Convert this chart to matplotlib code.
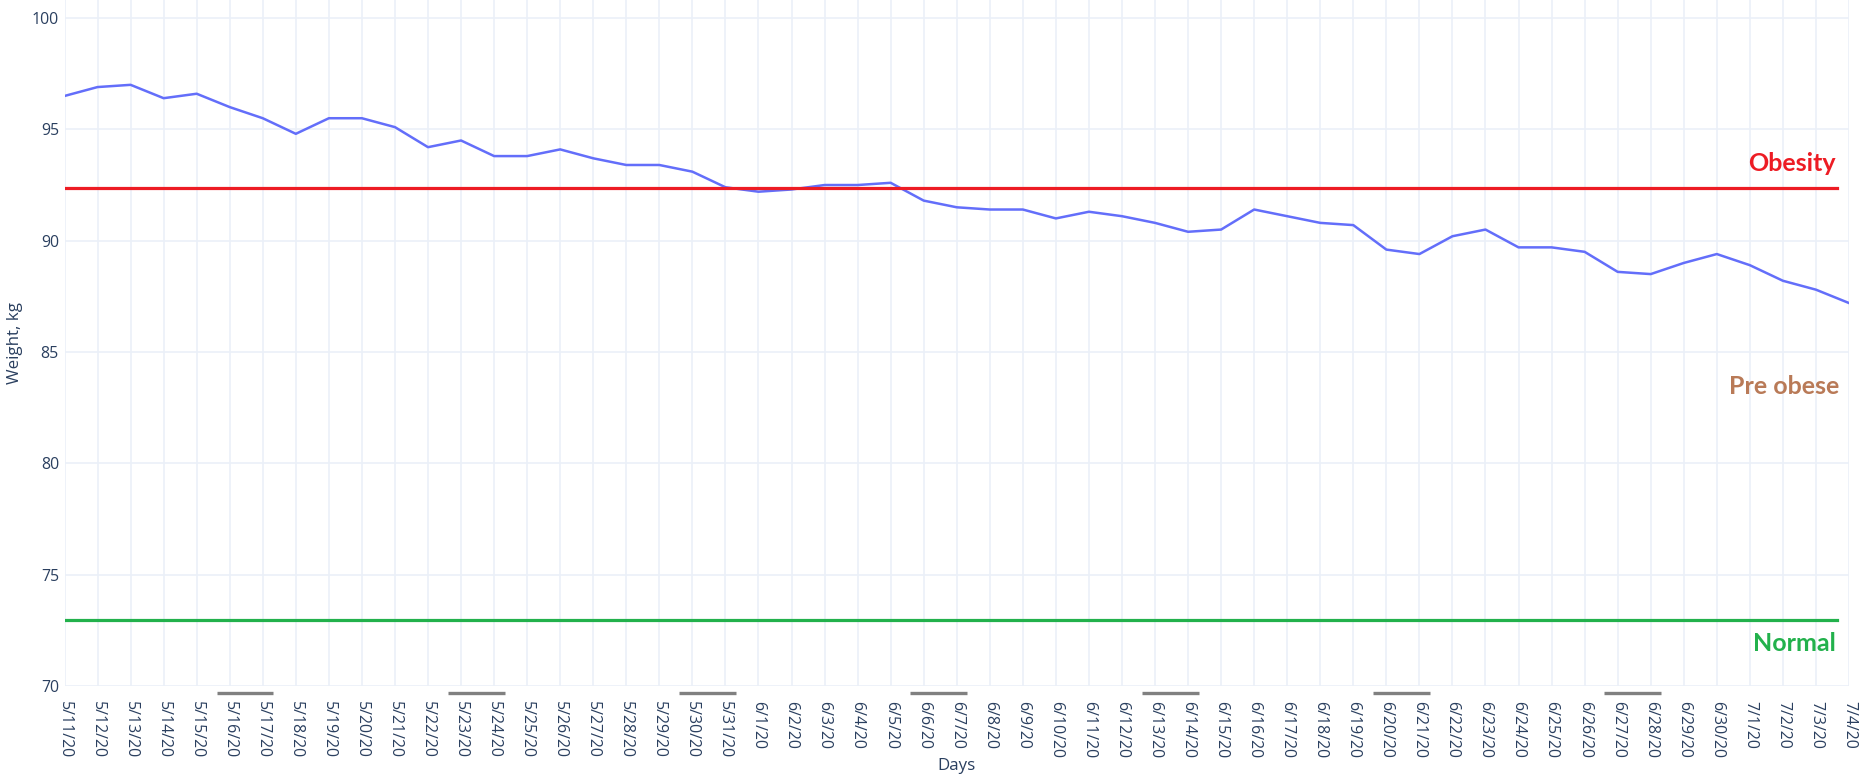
import matplotlib
matplotlib.use('Agg')
import matplotlib.pyplot as plt
import matplotlib.transforms as mtransforms
import numpy as np
import datetime as dt

plt.rcParams['font.family'] = ['Open Sans', 'DejaVu Sans']

# data
start = dt.date(2020, 5, 11)
weight = [96.5, 96.9, 97.0, 96.4, 96.6, 96.0, 95.5, 94.8, 95.5, 95.5,
          95.1, 94.2, 94.5, 93.8, 93.8, 94.1, 93.7, 93.4, 93.4, 93.1,
          92.4, 92.2, 92.3, 92.5, 92.5, 92.6, 91.8, 91.5, 91.4, 91.4,
          91.0, 91.3, 91.1, 90.8, 90.4, 90.5, 91.4, 91.1, 90.8, 90.7,
          89.6, 89.4, 90.2, 90.5, 89.7, 89.7, 89.5, 88.6, 88.5, 89.0,
          89.4, 88.9, 88.2, 87.8, 87.2]
days = [start + dt.timedelta(days=i) for i in range(len(weight))]
day_labels = ['%d/%d/%s' % (d.month, d.day, str(d.year)[2:]) for d in days]
obesity_limit = 92.35
normal_limit = 72.96

W, H = 1875, 781
fig = plt.figure(figsize=(W/100, H/100), dpi=100)
ax = fig.add_axes([64.5/W, 95/H, (1849-64.5)/W, 686/H])

x = np.arange(len(weight))
ax.plot(x, weight, color='#636efa', lw=1.8, zorder=3)

ax.set_xlim(0, len(weight)-1)
ax.set_ylim(70, 100.81)

# threshold lines
ax.axhline(obesity_limit, xmin=0.001, xmax=0.993, color='#ed1c24', lw=2.3, zorder=4)
ax.axhline(normal_limit, xmin=0.001, xmax=0.993, color='#22b14c', lw=2.3, zorder=4)

tr = mtransforms.blended_transform_factory(ax.transAxes, ax.transData)
lab = dict(transform=tr, ha='right', va='center', fontsize=18, fontweight='bold',
           family=['Lato', 'DejaVu Sans'])
ax.text(0.9925, obesity_limit + 1.1, 'Obesity', color='#ed1c24', **lab)
ax.text(0.9945, 83.43, 'Pre obese', color='#b97a57', **lab)
ax.text(0.9925, normal_limit - 1.05, 'Normal', color='#22b14c', **lab)

# weekend markers under the axis
trb = mtransforms.blended_transform_factory(ax.transData, ax.transAxes)
for i, d in enumerate(days):
    if d.weekday() == 5 and i + 1 < len(days):
        ax.plot([i - 0.4, i + 1.32], [-0.0105, -0.0105], color='#808080', lw=2.4,
                transform=trb, clip_on=False, solid_capstyle='butt')

ax.set_yticks([70, 75, 80, 85, 90, 95, 100])
ax.set_xticks(x)
ax.set_xticklabels(day_labels, rotation=-90, ha='center', va='top')
ax.tick_params(axis='both', length=0, labelsize=11.4, labelcolor='#2a3f5f')
ax.tick_params(axis='x', pad=11)
ax.tick_params(axis='y', pad=4)
ax.grid(True, color='#ebf0f8', lw=1.2)
ax.set_axisbelow(True)
for s in ax.spines.values():
    s.set_visible(False)

ax.set_ylabel('Weight, kg', fontsize=12.2, color='#2a3f5f', labelpad=6)
ax.set_xlabel('Days', fontsize=12.2, color='#2a3f5f', labelpad=0)

fig.savefig('out.png', dpi=100, facecolor='white')
